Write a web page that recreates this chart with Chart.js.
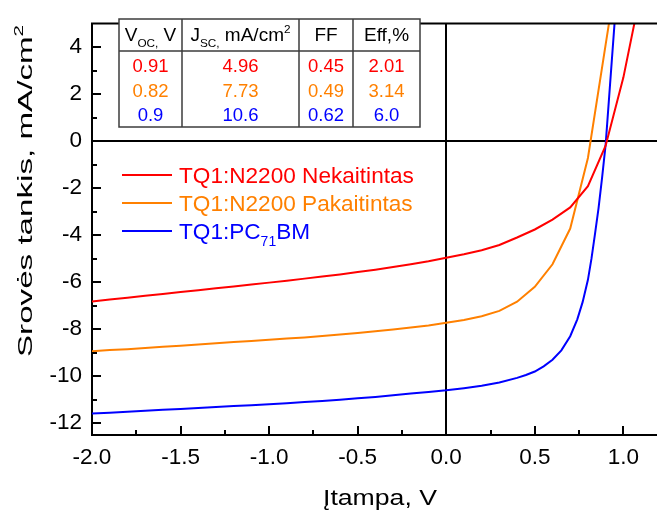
<!DOCTYPE html>
<html>
<head>
<meta charset="utf-8">
<script src="https://cdn.jsdelivr.net/npm/chart.js@4/dist/chart.umd.min.js"></script>
<style>
  html, body { margin: 0; padding: 0; background: #fff; }
  #wrap { width: 657px; height: 514px; position: relative; }
</style>
</head>
<body>
<div id="wrap"><canvas id="iv"></canvas></div>
<script>
// ---- Series: J-V curves (voltage in V, current density in mA/cm2) ----
const seriesLabels = ['TQ1:N2200 Nekaitintas', 'TQ1:N2200 Pakaitintas', 'TQ1:PC_{71}BM'];
const seriesColors = ['#ff0000', '#ff8000', '#0000ff'];

const voltageRed = [-2.0, -1.9, -1.8, -1.7, -1.6, -1.5, -1.4, -1.3, -1.2, -1.1, -1.0, -0.9, -0.8, -0.7, -0.6, -0.5,
  -0.4, -0.3, -0.2, -0.1, 0.0, 0.1, 0.2, 0.3, 0.4, 0.5, 0.6, 0.7, 0.8, 0.9, 1.0, 1.1];
const currentRed = [-6.82, -6.74, -6.66, -6.58, -6.50, -6.42, -6.34, -6.26, -6.18, -6.10, -6.02, -5.94, -5.85, -5.76, -5.67, -5.57,
  -5.47, -5.36, -5.24, -5.11, -4.96, -4.81, -4.64, -4.42, -4.10, -3.76, -3.34, -2.82, -1.92, -0.20, 2.70, 6.40];

const voltageOrange = [-2.0, -1.9, -1.8, -1.7, -1.6, -1.5, -1.4, -1.3, -1.2, -1.1, -1.0, -0.9, -0.8, -0.7, -0.6, -0.5,
  -0.4, -0.3, -0.2, -0.1, 0.0, 0.1, 0.2, 0.3, 0.4, 0.5, 0.6, 0.7, 0.8, 0.9, 1.0];
const currentOrange = [-8.94, -8.89, -8.85, -8.80, -8.75, -8.70, -8.65, -8.60, -8.55, -8.50, -8.45, -8.40, -8.35, -8.29, -8.23, -8.16,
  -8.09, -8.01, -7.93, -7.84, -7.73, -7.61, -7.45, -7.22, -6.83, -6.20, -5.24, -3.72, -0.72, 4.10, 8.90];

const voltageBlue = [-2.0, -1.9, -1.8, -1.7, -1.6, -1.5, -1.4, -1.3, -1.2, -1.1, -1.0, -0.9, -0.8, -0.7, -0.6, -0.5,
  -0.4, -0.3, -0.2, -0.1, 0.0, 0.1, 0.2, 0.3, 0.4, 0.45, 0.5, 0.55, 0.6, 0.65, 0.7, 0.74, 0.77, 0.8, 0.82, 0.84,
  0.86, 0.88, 0.9, 0.92, 0.94, 0.96];
const currentBlue = [-11.59, -11.55, -11.51, -11.47, -11.43, -11.39, -11.35, -11.31, -11.27, -11.23, -11.19, -11.15, -11.10, -11.05, -11.00, -10.94,
  -10.88, -10.81, -10.74, -10.67, -10.60, -10.51, -10.41, -10.27, -10.07, -9.95, -9.80, -9.58, -9.30, -8.90, -8.30, -7.58, -6.85, -5.90, -5.00, -3.95,
  -2.85, -1.55, -0.15, 1.90, 3.95, 6.00];

// ---- Axis ticks ----
const xTickValues = [-2.0, -1.5, -1.0, -0.5, 0.0, 0.5, 1.0];
const xMinorValues = [-1.75, -1.25, -0.75, -0.25, 0.25, 0.75];
const yTickValues = [-12, -10, -8, -6, -4, -2, 0, 2, 4];
const yMinorValues = [-11, -9, -7, -5, -3, -1, 1, 3];

// ---- Parameter table ----
const tableHeaders = ['V_{OC,} V', 'J_{SC,} mA/cm^{2}', 'FF', 'Eff,%'];
const vocValues = ['0.91', '0.82', '0.9'];
const jscValues = ['4.96', '7.73', '10.6'];
const ffValues = ['0.45', '0.49', '0.62'];
const effValues = ['2.01', '3.14', '6.0'];

const xTitle = 'Įtampa, V';
const yTitle = 'Srovės tankis, mA/cm^{2}';

const FONT = '"Liberation Sans", Arial, sans-serif';

// Split "a_{b}c^{d}" into [text, kind] runs
function parseRich(str) {
  const out = [];
  const re = /([_^])\{([^}]*)\}/g;
  let last = 0, m;
  while ((m = re.exec(str))) {
    if (m.index > last) out.push([str.slice(last, m.index), '']);
    out.push([m[2], m[1] === '_' ? 'sub' : 'sup']);
    last = re.lastIndex;
  }
  if (last < str.length) out.push([str.slice(last), '']);
  return out;
}
function richWidth(ctx, parts, size) {
  let w = 0;
  for (const [t, k] of parts) {
    ctx.font = `${k ? size * 0.62 : size}px ${FONT}`;
    w += ctx.measureText(t).width;
  }
  return w;
}
function drawRich(ctx, str, x, y, size, color, align) {
  const parts = parseRich(str);
  const w = richWidth(ctx, parts, size);
  let cx = align === 'center' ? x - w / 2 : align === 'right' ? x - w : x;
  ctx.fillStyle = color;
  ctx.textAlign = 'left';
  ctx.textBaseline = 'alphabetic';
  for (const [t, k] of parts) {
    const s = k ? size * 0.62 : size;
    ctx.font = `${s}px ${FONT}`;
    const dy = k === 'sub' ? size * 0.3 : k === 'sup' ? -size * 0.42 : 0;
    ctx.fillText(t, cx, y + dy);
    cx += ctx.measureText(t).width;
  }
}
// Text stretched along its run to a given length
function drawStretched(ctx, str, x, y, size, color, length, angle) {
  const parts = parseRich(str);
  const w = richWidth(ctx, parts, size);
  ctx.save();
  ctx.translate(x, y);
  ctx.rotate(angle);
  ctx.scale(length / w, 1);
  drawRich(ctx, str, 0, 0, size, color, 'left');
  ctx.restore();
}

const framePlugin = {
  id: 'frame',
  afterDraw(chart) {
    const { ctx, chartArea: a, scales: { x, y } } = chart;
    ctx.save();
    ctx.strokeStyle = '#000';
    ctx.lineWidth = 2;
    // top frame line
    ctx.beginPath();
    ctx.moveTo(a.left - 1, a.top);
    ctx.lineTo(a.right, a.top);
    ctx.stroke();
    // inward tick marks
    ctx.beginPath();
    const inX = v => v >= x.min && v <= x.max;
    xTickValues.filter(inX).forEach(v => { const p = Math.round(x.getPixelForValue(v)); ctx.moveTo(p, a.bottom); ctx.lineTo(p, a.bottom - 9); });
    xMinorValues.filter(inX).forEach(v => { const p = Math.round(x.getPixelForValue(v)); ctx.moveTo(p, a.bottom); ctx.lineTo(p, a.bottom - 5); });
    yTickValues.forEach(v => { const p = Math.round(y.getPixelForValue(v)); ctx.moveTo(a.left, p); ctx.lineTo(a.left + 9, p); });
    yMinorValues.forEach(v => { const p = Math.round(y.getPixelForValue(v)); ctx.moveTo(a.left, p); ctx.lineTo(a.left + 5, p); });
    ctx.stroke();

    // parameter table
    const cols = [119, 182, 299, 353, 420];
    const top = 19, headBottom = 51, bottom = 127;
    ctx.fillStyle = '#fff';
    ctx.fillRect(cols[0], top, cols[4] - cols[0], bottom - top);
    ctx.strokeStyle = '#3c3c3c';
    ctx.lineWidth = 1.5;
    ctx.strokeRect(cols[0], top, cols[4] - cols[0], bottom - top);
    ctx.beginPath();
    ctx.moveTo(cols[0], headBottom); ctx.lineTo(cols[4], headBottom);
    for (let i = 1; i < 4; i++) { ctx.moveTo(cols[i], top); ctx.lineTo(cols[i], bottom); }
    ctx.stroke();
    const centers = [0, 1, 2, 3].map(i => (cols[i] + cols[i + 1]) / 2);
    tableHeaders.forEach((h, i) => drawRich(ctx, h, centers[i], 41, 19, '#000', 'center'));
    const rowBase = [72, 96.5, 121];
    [vocValues, jscValues, ffValues, effValues].forEach((col, i) => {
      col.forEach((v, r) => drawRich(ctx, v, centers[i], rowBase[r], 18.5, seriesColors[r], 'center'));
    });

    // legend
    const legendY = [175, 203, 231];
    chart.data.datasets.forEach((ds, i) => {
      ctx.strokeStyle = ds.borderColor;
      ctx.lineWidth = 2;
      ctx.beginPath();
      ctx.moveTo(122, legendY[i]); ctx.lineTo(172, legendY[i]);
      ctx.stroke();
      drawRich(ctx, seriesLabels[i], 179, legendY[i] + 8.3, 22.6, ds.borderColor, 'left');
    });

    // axis titles
    drawStretched(ctx, xTitle, 323, 505, 22, '#000', 114, 0);
    drawStretched(ctx, yTitle, 32, 357, 20.5, '#000', 332, -Math.PI / 2);
    ctx.restore();
  }
};

const makeData = (xs, ys) => xs.map((v, i) => ({ x: v, y: ys[i] }));
const datasets = [
  { label: seriesLabels[0], data: makeData(voltageRed, currentRed) },
  { label: seriesLabels[1], data: makeData(voltageOrange, currentOrange) },
  { label: seriesLabels[2], data: makeData(voltageBlue, currentBlue) }
].map((d, i) => Object.assign(d, {
  borderColor: seriesColors[i], backgroundColor: seriesColors[i],
  borderWidth: 2, pointRadius: 0, tension: 0, fill: false
}));

const zeroLine = c => (c.tick && c.tick.value === 0) ? '#000' : 'rgba(0,0,0,0)';

new Chart(document.getElementById('iv'), {
  type: 'line',
  data: { datasets },
  options: {
    responsive: true,
    maintainAspectRatio: false,
    devicePixelRatio: 1,
    animation: false,
    layout: { padding: { top: 13, right: 0, bottom: 0, left: 0 } },
    plugins: { legend: { display: false }, tooltip: { enabled: false } },
    scales: {
      x: {
        type: 'linear', min: -2.0, max: 1.19,
        afterBuildTicks: s => { s.ticks = xTickValues.map(v => ({ value: v })); },
        afterFit: s => { s.height = 79; },
        grid: { drawTicks: false, color: zeroLine, lineWidth: 2 },
        border: { display: true, color: '#000', width: 2 },
        ticks: {
          font: { family: FONT, size: 22.5 }, color: '#000', padding: 9,
          maxRotation: 0, autoSkip: false, callback: v => v.toFixed(1)
        }
      },
      y: {
        type: 'linear', min: -12.5, max: 5,
        afterBuildTicks: s => { s.ticks = yTickValues.map(v => ({ value: v })); },
        afterFit: s => { s.width = 92; },
        grid: { drawTicks: false, color: zeroLine, lineWidth: 2 },
        border: { display: true, color: '#000', width: 2 },
        ticks: {
          font: { family: FONT, size: 22.5 }, color: '#000', padding: 10,
          autoSkip: false, callback: v => String(v)
        }
      }
    }
  },
  plugins: [framePlugin]
});
</script>
</body>
</html>
